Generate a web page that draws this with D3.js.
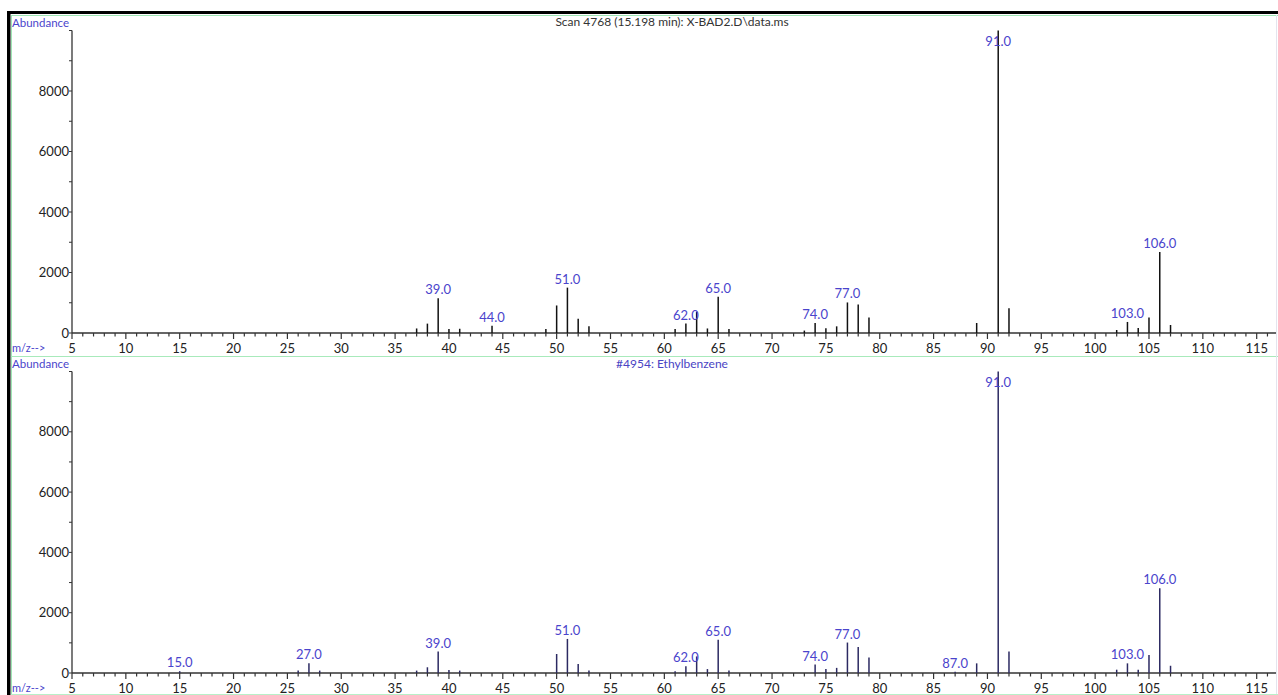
<!DOCTYPE html>
<html>
<head>
<meta charset="utf-8">
<script src="https://cdn.jsdelivr.net/npm/d3@7"></script>
<style>
  html, body { margin: 0; padding: 0; background: #fff; }
  svg { display: block; }
  text { font-family: Lato, "Open Sans", sans-serif; }
</style>
</head>
<body>
<svg id="chart" width="1278" height="695"></svg>
<script>
// Measured scan: m/z and abundance
const scanMz = [37, 38, 39, 40, 41, 44, 49, 50, 51, 52, 53, 61, 62, 63, 64, 65, 66, 73, 74, 75, 76, 77, 78, 79, 89, 91, 92, 102, 103, 104, 105, 106, 107];
const scanAbund = [150, 310, 1150, 130, 140, 240, 130, 910, 1500, 475, 220, 130, 310, 700, 150, 1200, 130, 80, 330, 160, 220, 1010, 940, 510, 330, 10000, 820, 100, 365, 165, 510, 2680, 265];
const scanLabels = [39, 44, 51, 62, 65, 74, 77, 91, 103, 106];

// Library reference spectrum: Ethylbenzene
const libMz = [15, 26, 27, 28, 37, 38, 39, 40, 41, 50, 51, 52, 53, 61, 62, 63, 64, 65, 66, 74, 75, 76, 77, 78, 79, 87, 89, 91, 92, 102, 103, 104, 105, 106, 107];
const libAbund = [60, 80, 320, 80, 80, 190, 710, 100, 80, 630, 1130, 300, 80, 60, 220, 550, 130, 1100, 80, 280, 130, 170, 1010, 860, 510, 40, 320, 10000, 710, 110, 320, 110, 600, 2810, 240];
const libLabels = [15, 27, 39, 51, 62, 65, 74, 77, 87, 91, 103, 106];

const xTicks = d3.range(5, 116, 5);
const yTicks = [0, 2000, 4000, 6000, 8000];
const panelTitles = ["Scan 4768 (15.198 min): X-BAD2.D\\data.ms", "#4954: Ethylbenzene"];

const svg = d3.select("#chart");
const W = 1278, H = 695;

// Frame: heavy black edges with thin green rules
svg.append("rect").attr("x", 0).attr("y", 0).attr("width", W).attr("height", H).attr("fill", "#fff");
svg.append("rect").attr("x", 7).attr("y", 11).attr("width", W - 7).attr("height", 3).attr("fill", "#000");
svg.append("rect").attr("x", 7).attr("y", 11).attr("width", 3.5).attr("height", H - 11).attr("fill", "#000");
svg.append("line").attr("x1", 11).attr("x2", W).attr("y1", 15.5).attr("y2", 15.5).attr("stroke", "#9fe6b4").attr("stroke-width", 1.2);
svg.append("line").attr("x1", 11.5).attr("x2", 11.5).attr("y1", 15).attr("y2", H).attr("stroke", "#9fe6b4").attr("stroke-width", 1);
svg.append("line").attr("x1", 11).attr("x2", W).attr("y1", 356.5).attr("y2", 356.5).attr("stroke", "#a8eabb").attr("stroke-width", 1.2);
svg.append("line").attr("x1", W - 1.5).attr("x2", W - 1.5).attr("y1", 15).attr("y2", H).attr("stroke", "#e4e4ee").attr("stroke-width", 1);
svg.append("line").attr("x1", 11).attr("x2", W).attr("y1", H - 0.5).attr("y2", H - 0.5).attr("stroke", "#b8f0c8").attr("stroke-width", 1);

const x = d3.scaleLinear().domain([5, 116.7]).range([72, 1275]);

const panels = [
  { mz: scanMz, ab: scanAbund, labels: scanLabels, top: 30.5, base: 333, textY: 26, title: panelTitles[0], titleColor: "#333", barColor: "#111", absY: 27 },
  { mz: libMz, ab: libAbund, labels: libLabels, top: 371.5, base: 673, textY: 368, title: panelTitles[1], titleColor: "#4a44c4", barColor: "#2c2a62", absY: 368 }
];

const labelColor = "#4a44cc";
const axisColor = "#333";

panels.forEach(p => {
  const y = d3.scaleLinear().domain([0, 10000]).range([p.base, p.top]);
  const g = svg.append("g");

  // Y axis: line, minor ticks every 1000, labelled ticks every 2000
  g.append("line").attr("x1", x(5)).attr("x2", x(5)).attr("y1", p.top).attr("y2", p.base)
    .attr("stroke", axisColor).attr("stroke-width", 1.3);
  g.selectAll(".ymin").data(d3.range(0, 10001, 1000)).join("line")
    .attr("x1", x(5) - 3).attr("x2", x(5))
    .attr("y1", d => y(d)).attr("y2", d => y(d))
    .attr("stroke", axisColor).attr("stroke-width", 1);
  g.selectAll(".ylab").data(yTicks).join("text")
    .attr("x", x(5) - 3).attr("y", d => y(d) + 4.5)
    .attr("text-anchor", "end").attr("font-size", 13).attr("fill", "#222")
    .text(d => d);

  // X axis: line, minor ticks every unit, labelled ticks every 5
  g.append("line").attr("x1", x(5)).attr("x2", 1276).attr("y1", p.base).attr("y2", p.base)
    .attr("stroke", axisColor).attr("stroke-width", 1.5);
  g.selectAll(".xmin").data(d3.range(5, 117, 1)).join("line")
    .attr("x1", d => x(d)).attr("x2", d => x(d))
    .attr("y1", p.base).attr("y2", d => p.base + (d % 5 === 0 ? 6 : 3.5))
    .attr("stroke", axisColor).attr("stroke-width", 1.2);
  g.selectAll(".xlab").data(xTicks).join("text")
    .attr("x", d => x(d)).attr("y", p.base + 20)
    .attr("text-anchor", "middle").attr("font-size", 13).attr("fill", "#222")
    .text(d => d);

  // Spectrum sticks
  const data = p.mz.map((m, i) => ({ m, v: p.ab[i] }));
  g.selectAll(".stick").data(data).join("line")
    .attr("x1", d => x(d.m)).attr("x2", d => x(d.m))
    .attr("y1", p.base).attr("y2", d => y(d.v))
    .attr("stroke", p.barColor).attr("stroke-width", 1.5);

  // Peak labels
  const lab = data.filter(d => p.labels.includes(d.m));
  g.selectAll(".plab").data(lab).join("text")
    .attr("x", d => x(d.m)).attr("y", d => Math.max(y(d.v) - 4, p.top + 15))
    .attr("text-anchor", "middle").attr("font-size", 13).attr("fill", labelColor)
    .text(d => d.m.toFixed(1));

  // Panel captions
  svg.append("text").attr("x", 12).attr("y", p.absY)
    .attr("font-size", 11.5).attr("fill", "#4a44cc").text("Abundance");
  svg.append("text").attr("x", 672).attr("y", p.textY)
    .attr("text-anchor", "middle").attr("font-size", 12).attr("fill", p.titleColor).text(p.title);
  svg.append("text").attr("x", 12).attr("y", p.base + 19)
    .attr("font-size", 11).attr("fill", "#4a44cc").text("m/z-->");
});
</script>
</body>
</html>
